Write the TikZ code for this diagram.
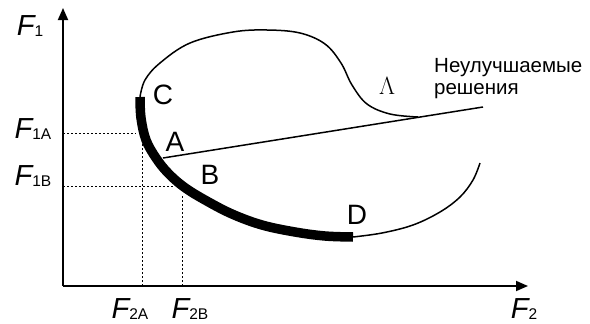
\documentclass[tikz,border=0pt]{standalone}
\usepackage{fontspec}
\setmainfont{Liberation Sans}
\newfontfamily\lamfont{Liberation Serif}
\usetikzlibrary{arrows.meta}
\newcommand{\Fsub}[1]{{\itshape F}\raisebox{-1.5pt}{\fontsize{15.5}{15.5}\selectfont #1}}

\begin{document}
\begin{tikzpicture} [x = 1pt, y = -1pt,
    axis/.style = {line width = 1.8pt, -{Triangle[length = 12pt, width = 10pt]}},
    guide/.style = {line width = 0.8pt, dash pattern = on 2pt off 2pt},
    curve/.style = {line width = 1.5pt},
    pt/.style = {font = \fontsize{28}{28}\selectfont, inner sep = 0pt},
    flbl/.style = {font = \fontsize{29}{29}\selectfont, inner sep = 0pt}]
                \useasboundingbox (0,0) rectangle (590,324);
                \coordinate (O) at (63,286);
                \coordinate (Ytop) at (63,8);
                \coordinate (Xend) at (528,286);
                \draw [axis] (O) -- (Ytop);
                \draw [axis] (O) -- (Xend);
                % the attainable set
                \draw [curve] plot [smooth, tension = 0.6] coordinates {(418,117) (390,114) (367,104) (352,85) (341,63) (325,44) (300,33) (267,30) (233,32) (190,43) (160,63) (145,80) (140,97)};
                \draw [curve] plot [smooth, tension = 0.6] coordinates {(353,237) (382,233) (413,225) (440,212) (460,197) (473,180) (480,163)};
                \draw [line width = 9.5pt] plot [smooth, tension = 0.6] coordinates {(140,97) (141,118) (146,140) (156,158) (168,173) (184,187) (205,200) (232,214) (262,225) (295,232) (325,236) (353,237)};
                % projections of A and B
                \coordinate (A) at (163,158);
                \coordinate (Lend) at (483,107);
                \draw [curve] (A) -- (Lend);
                \coordinate (aY) at (63,133);   \coordinate (aC) at (136,133);
                \coordinate (bY) at (63,186);   \coordinate (bC) at (174,186);
                \coordinate (aX) at (142,286);  \coordinate (aT) at (142,143);
                \coordinate (bX) at (182,286);  \coordinate (bT) at (182,195);
                \draw [guide] (aY) -- (aC) (bY) -- (bC) (aX) -- (aT) (bX) -- (bT);
                % labels
                \node [flbl] (F1) at (30,26) {\Fsub{1}};
                \node [flbl] (F1A) at (33,129) {\Fsub{1A}};
                \node [flbl] (F1B) at (33,176) {\Fsub{1B}};
                \node [flbl] (F2A) at (130,309) {\Fsub{2A}};
                \node [flbl] (F2B) at (190,309) {\Fsub{2B}};
                \node [flbl] (F2) at (524,309) {\Fsub{2}};
                \node [pt] (C) at (163,95) {C};
                \node [pt] (Albl) at (175,142) {A};
                \node [pt] (B) at (210,175) {B};
                \node [pt] (D) at (357,215) {D};
                \node [font = \fontsize{24}{24}\lamfont, inner sep = 0pt] (Lam) at (387,86) {$\Lambda$};
                \node [font = \fontsize{20.5}{22}\selectfont, align = left, anchor = north west, inner sep = 0pt] (nonimp) at (434,58) {Неулучшаемые\\решения};
            \end{tikzpicture}
\end{document}
